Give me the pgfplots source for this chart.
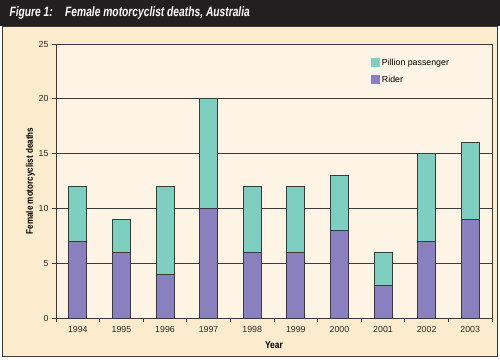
\documentclass[border=0pt]{standalone}
\usepackage{pgfplots}
\pgfplotsset{compat=1.18}
\usepackage{fontspec}
\setmainfont{Liberation Sans}
\definecolor{hdr}{HTML}{231F20}
\definecolor{outerbg}{HTML}{FCEBCD}
\definecolor{plotbg}{HTML}{FEF4E5}
\definecolor{pillion}{HTML}{7ECFC0}
\definecolor{rider}{HTML}{8A80C0}
\definecolor{edge}{HTML}{3A3A3A}
\begin{document}
\begin{tikzpicture}[x=1pt,y=1pt]
\useasboundingbox (0,0) rectangle (500,359);
\fill[white] (0,0) rectangle (500,359);
\fill[outerbg,draw=edge,line width=0.8pt] (2.5,3) rectangle (497.5,333);
\fill[hdr] (0,333) rectangle (500,359);
\node[anchor=west,text=white,font=\bfseries\itshape\fontsize{13.5}{14}\selectfont] at (6,346) {\scalebox{0.76}[1]{Figure 1:\hspace{1.2em}Female motorcyclist deaths, Australia}};
\begin{axis}[
  at={(56pt,41pt)}, anchor=south west,
  scale only axis, width=436pt, height=274pt,
  axis background/.style={fill=plotbg},
  ybar stacked, bar width=18pt,
  xmin=-0.5, xmax=9.5, ymin=0, ymax=25,
  xtick={0,...,9},
  xticklabels={1994,1995,1996,1997,1998,1999,2000,2001,2002,2003},
  major x tick style={draw=none},
  minor xtick={-0.5,0.5,1.5,2.5,3.5,4.5,5.5,6.5,7.5,8.5,9.5},
  minor x tick style={edge, line width=0.8pt},
  minor tick length=4pt,
  xtick pos=bottom, ytick pos=left,
  tick align=outside,
  ytick={0,5,10,15,20,25},
  major y tick style={edge, line width=0.8pt},
  major tick length=4pt,
  ymajorgrids, grid style={edge, line width=0.8pt},
  axis line style={edge, line width=0.8pt},
  tick label style={font=\fontsize{8.8}{10}\selectfont, text=black!85},
  xticklabel style={yshift=-1pt},
  /pgf/number format/assume math mode=true,
  xlabel={\bfseries\scalebox{0.85}[1]{Year}},
  xlabel style={font=\fontsize{10}{11}\selectfont, yshift=-2pt},
  ylabel={\bfseries\scalebox{0.85}[1]{Female motorcyclist deaths}},
  ylabel style={font=\fontsize{9.5}{10}\selectfont, yshift=-3pt},
  legend style={draw=none, fill=none, at={(0.715,0.96)}, anchor=north west,
    font=\fontsize{8.8}{10}\selectfont, row sep=5.5pt},
  legend cell align=left,
  legend image code/.code={\draw[#1,draw=none] (0pt,-4pt) rectangle (9pt,5pt);},
  reverse legend,
]
\addplot[fill=rider, draw=edge, line width=0.7pt] coordinates {(0,7) (1,6) (2,4) (3,10) (4,6) (5,6) (6,8) (7,3) (8,7) (9,9)};
\addplot[fill=pillion, draw=edge, line width=0.7pt] coordinates {(0,5) (1,3) (2,8) (3,10) (4,6) (5,6) (6,5) (7,3) (8,8) (9,7)};
\legend{Rider, Pillion passenger}
\end{axis}
\end{tikzpicture}
\end{document}
